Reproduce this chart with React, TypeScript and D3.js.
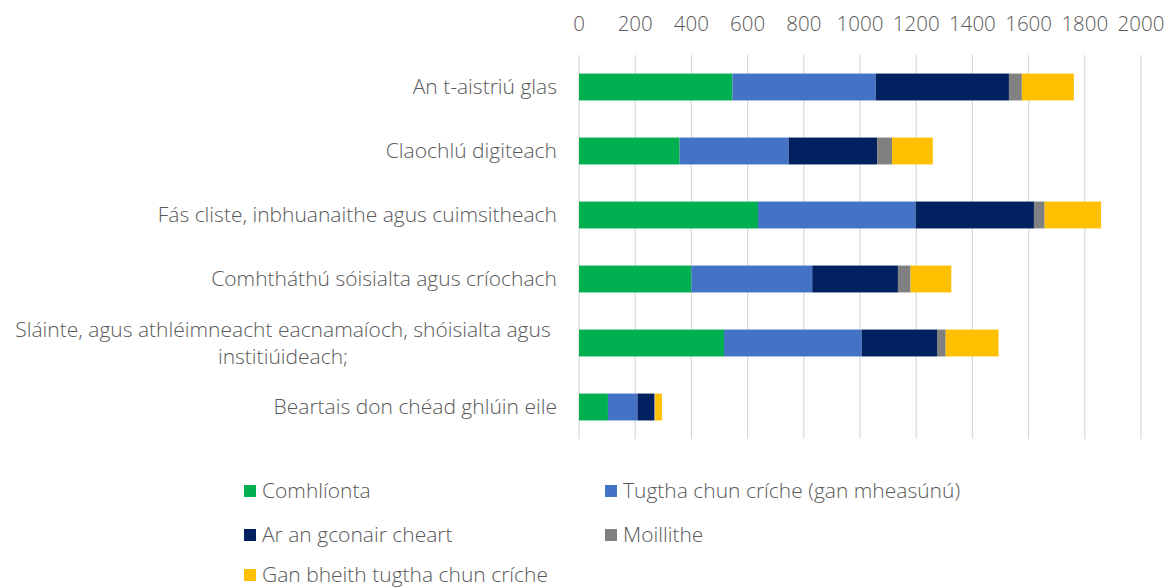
import React from "react";
import * as d3 from "d3";

const categories = [
  ["An t-aistriú glas"],
  ["Claochlú digiteach"],
  ["Fás cliste, inbhuanaithe agus cuimsitheach"],
  ["Comhtháthú sóisialta agus críochach"],
  ["Sláinte, agus athléimneacht eacnamaíoch, shóisialta agus", "institiúideach;"],
  ["Beartais don chéad ghlúin eile"],
];
const seriesNames = [
  "Comhlíonta",
  "Tugtha chun críche (gan mheasúnú)",
  "Ar an gconair cheart",
  "Moillithe",
  "Gan bheith tugtha chun críche",
];
const comhlionta = [546, 358, 637, 400, 516, 103];
const tugtha = [510, 388, 561, 430, 490, 105];
const conair = [474, 315, 421, 305, 268, 60];
const moillithe = [46, 53, 38, 45, 31, 3];
const ganBheith = [185, 145, 201, 145, 188, 24];
const tickValues = [0, 200, 400, 600, 800, 1000, 1200, 1400, 1600, 1800, 2000];
const colors = ["#00B050", "#4472C4", "#002060", "#808080", "#FFC000"];

const W = 1176;
const H = 588;
const FONT = "'Open Sans', sans-serif";
const TXT = "#595959";
const FS = 21;

export default function App() {
  const values = [comhlionta, tugtha, conair, moillithe, ganBheith];
  const x = d3.scaleLinear().domain([0, 2000]).range([579, 1141]);
  const y = d3
    .scaleBand<number>()
    .domain(categories.map((_, i) => i))
    .range([55, 439])
    .paddingInner(0.58)
    .paddingOuter(0.29);
  const data = categories.map((_, i) => {
    const o: Record<string, number> = { i };
    seriesNames.forEach((s, k) => (o[s] = values[k][i]));
    return o;
  });
  const stacked = d3.stack<Record<string, number>>().keys(seriesNames)(data);
  const legendPos = [
    [244, 491],
    [605, 491],
    [244, 535],
    [605, 535],
    [244, 575],
  ];
  return (
    <svg
      width={W}
      height={H}
      style={{ position: "absolute", left: 0, top: 0, background: "#fff" }}
      fontFamily={FONT}
    >
      {tickValues.map((t) => (
        <g key={t}>
          <line x1={x(t)} x2={x(t)} y1={55} y2={439} stroke="#D9D9D9" strokeWidth={1.2} />
          <text
            x={x(t)}
            y={24}
            dy="0.35em"
            textAnchor="middle"
            fontSize={FS - 0.5}
            fontWeight={300}
            fill={TXT}
          >
            {t}
          </text>
        </g>
      ))}
      {stacked.map((layer, k) => (
        <g key={k} fill={colors[k]}>
          {layer.map((d, i) => (
            <rect
              key={i}
              x={x(d[0])}
              y={y(i)}
              width={Math.max(0, x(d[1]) - x(d[0]))}
              height={y.bandwidth()}
            />
          ))}
        </g>
      ))}
      {categories.map((lines, i) => {
        const cy = (y(i) as number) + y.bandwidth() / 2;
        if (lines.length === 1) {
          return (
            <text
              key={i}
              x={557}
              y={cy}
              dy="0.35em"
              textAnchor="end"
              fontSize={FS}
              fontWeight={300}
              fill={TXT}
            >
              {lines[0]}
            </text>
          );
        }
        return (
          <text
            key={i}
            x={283}
            y={cy}
            textAnchor="middle"
            fontSize={FS}
            fontWeight={300}
            fill={TXT}
          >
            {lines.map((l, j) => (
              <tspan key={j} x={283} dy={j === 0 ? "-0.3em" : "1.3em"}>
                {l}
              </tspan>
            ))}
          </text>
        );
      })}
      {seriesNames.map((s, k) => (
        <g key={s} transform={`translate(${legendPos[k][0]},${legendPos[k][1]})`}>
          <rect x={0} y={-6} width={12} height={12} fill={colors[k]} />
          <text x={18} y={0} dy="0.35em" fontSize={FS} fontWeight={300} fill={TXT}>
            {s}
          </text>
        </g>
      ))}
    </svg>
  );
}
